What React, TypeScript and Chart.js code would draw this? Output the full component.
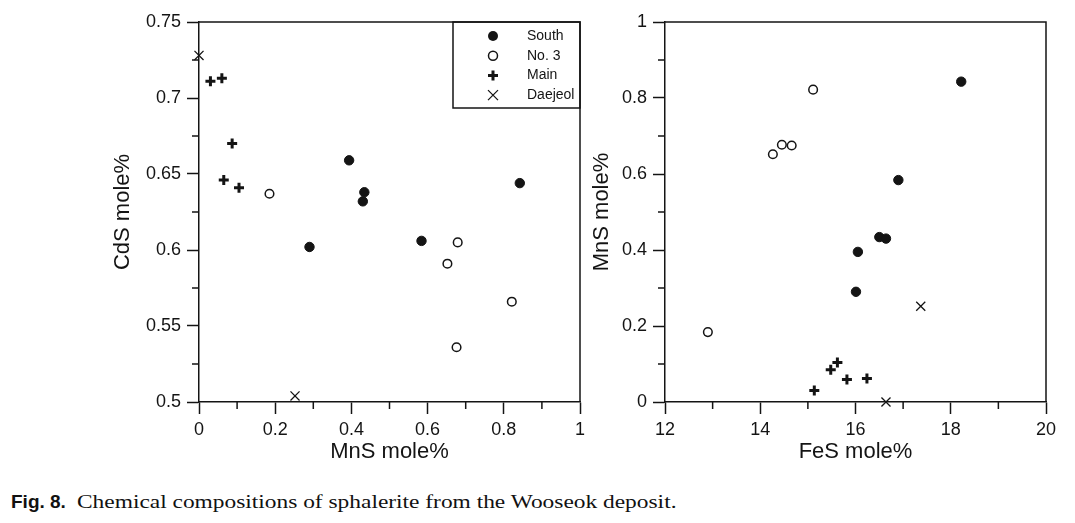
import React, { useEffect, useRef } from "react";
import { Chart, registerables } from "chart.js";

Chart.register(...registerables);

// ---------- data ----------
// Left panel: MnS mole% (x) vs CdS mole% (y)
const SOUTH_MNS = [0.394, 0.434, 0.430, 0.842, 0.290, 0.584];
const SOUTH_CDS = [0.659, 0.638, 0.632, 0.644, 0.602, 0.606];
const NO3_MNS = [0.185, 0.679, 0.652, 0.821, 0.676];
const NO3_CDS = [0.637, 0.605, 0.591, 0.566, 0.536];
const MAIN_MNS = [0.030, 0.060, 0.087, 0.065, 0.105];
const MAIN_CDS = [0.711, 0.713, 0.670, 0.646, 0.641];
const DAEJEOL_MNS = [0.0, 0.252];
const DAEJEOL_CDS = [0.728, 0.504];

// Right panel: FeS mole% (x) vs MnS mole% (y)
const SOUTH_FES = [18.22, 16.90, 16.50, 16.64, 16.05, 16.01];
const SOUTH_MNS2 = [0.843, 0.584, 0.434, 0.430, 0.395, 0.290];
const NO3_FES = [15.11, 14.265, 14.454, 14.66, 12.90];
const NO3_MNS2 = [0.822, 0.652, 0.677, 0.675, 0.184];
const MAIN_FES = [15.135, 15.48, 15.62, 15.82, 16.24];
const MAIN_MNS2 = [0.030, 0.085, 0.104, 0.059, 0.062];
const DAEJEOL_FES = [17.37, 16.64];
const DAEJEOL_MNS2 = [0.252, 0.0];

const SERIES_NAMES = ["South", "No. 3", "Main", "Daejeol"];

// axis ranges / ticks
const LEFT_X_RANGE = [0, 1, 0.2];
const LEFT_Y_RANGE = [0.5, 0.75, 0.05];
const RIGHT_X_RANGE = [12, 20, 2];
const RIGHT_Y_RANGE = [0, 1, 0.2];
const LEFT_X_MINOR = [0.1, 0.3, 0.5, 0.7, 0.9];
const LEFT_Y_MINOR = [0.525, 0.575, 0.625, 0.675, 0.725];
const RIGHT_X_MINOR = [13, 15, 17, 19];
const RIGHT_Y_MINOR = [0.1, 0.3, 0.5, 0.7, 0.9];

const CAPTION_LABEL = "Fig. 8.";
const CAPTION_TEXT = "Chemical compositions of sphalerite from the Wooseok deposit.";

// ---------- styling ----------
const W = 1075;
const H = 470;
const INK = "#141414";
const SANS = "'Liberation Sans', Arial, sans-serif";

const STYLES = [
  { pointStyle: "circle", radius: 4.7, fill: INK, border: 1 },
  { pointStyle: "circle", radius: 4.3, fill: "rgba(0,0,0,0)", border: 1.5 },
  { pointStyle: "cross", radius: 5, fill: INK, border: 3 },
  { pointStyle: "crossRot", radius: 6.4, fill: INK, border: 1.3 },
];

function pts(xs: number[], ys: number[]) {
  return xs.map((x, i) => ({ x, y: ys[i] }));
}

function makeDatasets(series: { x: number[]; y: number[] }[]) {
  return series.map((s, i) => ({
    label: SERIES_NAMES[i],
    data: pts(s.x, s.y),
    pointStyle: STYLES[i].pointStyle,
    pointRadius: STYLES[i].radius,
    pointHoverRadius: STYLES[i].radius,
    pointBackgroundColor: STYLES[i].fill,
    pointBorderColor: INK,
    pointBorderWidth: STYLES[i].border,
    showLine: false,
    clip: false as any,
  }));
}

function fmt(v: any) {
  return String(Number(Number(v).toFixed(3)));
}

function framePlugin(minorX: number[], minorY: number[], withLegend: boolean) {
  return {
    id: "frameMinor",
    afterDraw(chart: any) {
      const ctx = chart.ctx;
      const a = chart.chartArea;
      const xs = chart.scales.x;
      const ys = chart.scales.y;
      ctx.save();
      ctx.strokeStyle = INK;
      ctx.lineWidth = 1.5;
      // top + right frame
      ctx.beginPath();
      ctx.moveTo(a.left, a.top);
      ctx.lineTo(a.right, a.top);
      ctx.lineTo(a.right, a.bottom);
      ctx.stroke();
      // minor ticks
      ctx.beginPath();
      minorX.forEach((v) => {
        const px = xs.getPixelForValue(v);
        ctx.moveTo(px, a.bottom);
        ctx.lineTo(px, a.bottom + 7);
      });
      minorY.forEach((v) => {
        const py = ys.getPixelForValue(v);
        ctx.moveTo(a.left, py);
        ctx.lineTo(a.left - 7, py);
      });
      ctx.stroke();

      if (withLegend) {
        const bx = a.right - 127;
        const by = a.top;
        const bw = 127;
        const bh = 86;
        ctx.strokeRect(bx, by, bw, bh);
        ctx.font = `14px ${SANS}`;
        ctx.textBaseline = "middle";
        ctx.textAlign = "left";
        ctx.fillStyle = INK;
        SERIES_NAMES.forEach((name, i) => {
          const cy = by + 14 + i * 19.7;
          const cx = bx + 40;
          ctx.beginPath();
          if (i === 0) {
            ctx.arc(cx, cy, 5, 0, Math.PI * 2);
            ctx.fill();
          } else if (i === 1) {
            ctx.lineWidth = 1.5;
            ctx.arc(cx, cy, 4.5, 0, Math.PI * 2);
            ctx.stroke();
          } else if (i === 2) {
            ctx.lineWidth = 3;
            ctx.moveTo(cx - 5, cy);
            ctx.lineTo(cx + 5, cy);
            ctx.moveTo(cx, cy - 5);
            ctx.lineTo(cx, cy + 5);
            ctx.stroke();
          } else {
            ctx.lineWidth = 1.3;
            ctx.moveTo(cx - 5, cy - 5);
            ctx.lineTo(cx + 5, cy + 5);
            ctx.moveTo(cx + 5, cy - 5);
            ctx.lineTo(cx - 5, cy + 5);
            ctx.stroke();
          }
          ctx.fillText(name, bx + 74, cy);
        });
      }
      ctx.restore();
    },
  };
}

function axis(
  range: number[],
  title: string,
  horizontal: boolean,
  size: number,
  titlePad: any
) {
  return {
    type: "linear" as const,
    min: range[0],
    max: range[1],
    ticks: {
      stepSize: range[2],
      color: INK,
      font: { size: 18, family: SANS },
      padding: horizontal ? 5 : 6,
      callback: (v: any) => fmt(v),
      maxRotation: 0,
      autoSkip: false,
    },
    grid: {
      drawOnChartArea: false,
      drawTicks: true,
      tickLength: 12,
      tickWidth: 1.5,
      tickColor: INK,
      color: INK,
    },
    border: { display: true, color: INK, width: 1.5 },
    title: {
      display: true,
      text: title,
      color: INK,
      font: { size: 22, family: SANS },
      padding: titlePad,
    },
    afterFit: (scale: any) => {
      if (horizontal) scale.height = size;
      else scale.width = size;
    },
  };
}

function ScatterPanel(props: {
  datasets: any[];
  xAxis: any;
  yAxis: any;
  padding: any;
  plugin: any;
}) {
  const ref = useRef<HTMLCanvasElement | null>(null);
  useEffect(() => {
    if (!ref.current) return;
    const chart = new Chart(ref.current, {
      type: "scatter",
      data: { datasets: props.datasets },
      options: {
        responsive: false,
        animation: false,
        devicePixelRatio: 1,
        layout: { padding: props.padding },
        plugins: { legend: { display: false }, tooltip: { enabled: false } },
        events: [],
        scales: { x: props.xAxis, y: props.yAxis },
      } as any,
      plugins: [props.plugin],
    });
    return () => chart.destroy();
  }, []);
  return (
    <canvas
      ref={ref}
      width={W}
      height={H}
      style={{ position: "absolute", left: 0, top: 0, width: W, height: H }}
    />
  );
}

export default function App() {
  const leftData = makeDatasets([
    { x: SOUTH_MNS, y: SOUTH_CDS },
    { x: NO3_MNS, y: NO3_CDS },
    { x: MAIN_MNS, y: MAIN_CDS },
    { x: DAEJEOL_MNS, y: DAEJEOL_CDS },
  ]);
  const rightData = makeDatasets([
    { x: SOUTH_FES, y: SOUTH_MNS2 },
    { x: NO3_FES, y: NO3_MNS2 },
    { x: MAIN_FES, y: MAIN_MNS2 },
    { x: DAEJEOL_FES, y: DAEJEOL_MNS2 },
  ]);

  return (
    <div style={{ position: "relative", width: W, height: 523, background: "#fff" }}>
      <style>{`html,body{margin:0;padding:0;background:#fff;}`}</style>
      <ScatterPanel
        datasets={leftData}
        xAxis={axis(LEFT_X_RANGE, "MnS mole%", true, H - 402, { top: 0, bottom: 5 })}
        yAxis={axis(LEFT_Y_RANGE, "CdS mole%", false, 199, { top: 110, bottom: 0 })}
        padding={{ left: 0, top: 22, right: W - 580, bottom: 0 }}
        plugin={framePlugin(LEFT_X_MINOR, LEFT_Y_MINOR, true)}
      />
      <ScatterPanel
        datasets={rightData}
        xAxis={axis(RIGHT_X_RANGE, "FeS mole%", true, H - 402, { top: 0, bottom: 5 })}
        yAxis={axis(RIGHT_Y_RANGE, "MnS mole%", false, 665, { top: 589, bottom: 0 })}
        padding={{ left: 0, top: 22, right: W - 1046, bottom: 0 }}
        plugin={framePlugin(RIGHT_X_MINOR, RIGHT_Y_MINOR, false)}
      />
      <span
        style={{
          position: "absolute",
          left: 11,
          top: 493,
          lineHeight: "18px",
          fontSize: 19,
          whiteSpace: "nowrap",
          color: "#111",
          fontFamily: SANS,
          fontWeight: 700,
        }}
      >
        {CAPTION_LABEL}
      </span>
      <span
        style={{
          position: "absolute",
          left: 77,
          top: 493,
          lineHeight: "18px",
          fontSize: 18,
          whiteSpace: "nowrap",
          color: "#111",
          fontFamily: "'Liberation Serif', 'Times New Roman', serif",
          transform: "scaleX(1.3)",
          transformOrigin: "0 0",
          display: "inline-block",
        }}
      >
        {CAPTION_TEXT}
      </span>
    </div>
  );
}
